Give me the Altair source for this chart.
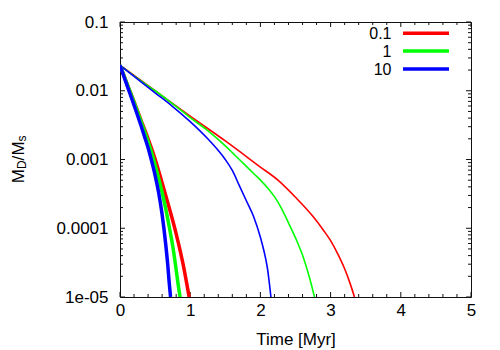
import altair as alt
import pandas as pd

# ---- data ----
series = ["0.1", "1", "10"]
colors = ["#ff0000", "#00ff00", "#0000ff"]

# thin curves (slow decay)
t_thin_01 = [0, 0.5, 1.0, 1.5, 2.0, 2.25, 2.5, 2.75, 2.9, 3.0, 3.1, 3.2, 3.27, 3.34]
v_thin_01 = [0.0235, 0.0100, 0.00427, 0.00186, 0.000776, 0.000501, 0.000282, 0.000148, 9.3e-5,
             6.6e-5, 4.27e-5, 2.57e-5, 1.66e-5, 1.0e-5]
t_thin_1 = [0, 0.25, 0.5, 0.75, 1.0, 1.25, 1.5, 1.6, 1.7, 1.8, 1.9, 2.0, 2.1, 2.2, 2.3, 2.4, 2.5,
            2.6, 2.7, 2.77]
v_thin_1 = [0.0235, 0.0151, 0.0100, 0.00646, 0.00407, 0.00263, 0.00158, 0.00126, 0.0010, 0.000794,
            0.000631, 0.000501, 0.000389, 0.000288, 0.000195, 0.00012, 7.24e-5, 4.07e-5, 1.9e-5,
            1.0e-5]
t_thin_10 = [0, 0.25, 0.5, 0.75, 1.0, 1.25, 1.4, 1.5, 1.6, 1.7, 1.8, 1.9, 2.0, 2.05, 2.1, 2.15]
v_thin_10 = [0.0235, 0.0148, 0.00933, 0.00589, 0.00355, 0.0020, 0.00135, 0.0010, 0.000692, 0.000417,
             0.000251, 0.000151, 7.4e-5, 4.7e-5, 2.63e-5, 1.0e-5]

# thick curves (fast decay)
t_thick_01 = [0, 0.1, 0.2, 0.3, 0.4, 0.5, 0.6, 0.7, 0.8, 0.86, 0.9, 0.95, 0.985]
v_thick_01 = [0.0235, 0.0126, 0.00692, 0.00372, 0.0020, 0.00102, 0.000457, 0.0002, 8.3e-5, 4.57e-5,
              2.95e-5, 1.58e-5, 1.0e-5]
t_thick_1 = [0, 0.1, 0.2, 0.3, 0.4, 0.45, 0.5, 0.55, 0.6, 0.65, 0.7, 0.75, 0.8, 0.83, 0.855]
v_thick_1 = [0.0235, 0.0126, 0.00676, 0.00355, 0.00182, 0.00126, 0.000832, 0.000537, 0.000331,
             0.000195, 0.000107, 5.6e-5, 2.5e-5, 1.48e-5, 1.0e-5]
t_thick_10 = [0, 0.1, 0.2, 0.3, 0.35, 0.4, 0.45, 0.5, 0.55, 0.6, 0.65, 0.68, 0.7, 0.72]
v_thick_10 = [0.0235, 0.0120, 0.00617, 0.00309, 0.00214, 0.00148, 0.000955, 0.000589, 0.000331,
              0.000158, 6.0e-5, 2.95e-5, 1.66e-5, 1.0e-5]

# axis ticks
x_major = [0, 1, 2, 3, 4, 5]
x_minor = [0.2, 0.4, 0.6, 0.8, 1.2, 1.4, 1.6, 1.8, 2.2, 2.4, 2.6, 2.8,
           3.2, 3.4, 3.6, 3.8, 4.2, 4.4, 4.6, 4.8]
y_major = [1e-5, 1e-4, 1e-3, 1e-2, 1e-1]
y_minor = [k * d for d in [1e-5, 1e-4, 1e-3, 1e-2] for k in range(2, 10)]

FONT = "Liberation Sans"
FRAME = "#111111"
W, H = 351, 275


def frame(ts, vs, name):
    return pd.DataFrame({"t": ts, "v": vs, "series": name})


thin = pd.concat([frame(t_thin_01, v_thin_01, "0.1"),
                  frame(t_thin_1, v_thin_1, "1"),
                  frame(t_thin_10, v_thin_10, "10")], ignore_index=True)
thick = pd.concat([frame(t_thick_01, v_thick_01, "0.1"),
                   frame(t_thick_1, v_thick_1, "1"),
                   frame(t_thick_10, v_thick_10, "10")], ignore_index=True)

xs = alt.Scale(domain=[0, 5], nice=False, zero=False)
ys = alt.Scale(type="log", domain=[1e-5, 0.1], nice=False)

x_axis = alt.Axis(values=x_major, format="d", ticks=False, domain=False, grid=False,
                  labelFontSize=17, labelFont=FONT, labelColor="black", labelPadding=5,
                  labelFlush=False, labelOverlap=False,
                  title="Time [Myr]", titleFont=FONT, titleFontSize=17,
                  titleFontWeight="normal", titleColor="black", titlePadding=13)
y_axis = alt.Axis(values=y_major, ticks=False, domain=False, grid=False,
                  labelExpr="datum.value < 3e-5 ? '1e-05' : format(datum.value, '~g')",
                  labelFontSize=17, labelFont=FONT, labelColor="black", labelPadding=12,
                  labelFlush=False, labelOverlap=False, title=None)

X = alt.X("t:Q", scale=xs, axis=x_axis)
Y = alt.Y("v:Q", scale=ys, axis=y_axis)
C = alt.Color("series:N", scale=alt.Scale(domain=series, range=colors), legend=None)

thin_layer = alt.Chart(thin).mark_line(strokeWidth=1.6, clip=True, interpolate="monotone").encode(
    x=X, y=Y, color=C, detail="series:N")
thick_layer = alt.Chart(thick).mark_line(strokeWidth=3.5, clip=True, interpolate="monotone").encode(
    x=X, y=Y, color=C, detail="series:N")


def xticks(vals, length, top):
    df = pd.DataFrame({"t": vals})
    if top:
        yy, yy2 = alt.value(0), alt.value(length)
    else:
        yy, yy2 = alt.value(H), alt.value(H - length)
    return alt.Chart(df).mark_rule(color=FRAME, strokeWidth=1).encode(x=X, y=yy, y2=yy2)


def yticks(vals, length, right):
    df = pd.DataFrame({"v": vals})
    if right:
        xx, xx2 = alt.value(W), alt.value(W - length)
    else:
        xx, xx2 = alt.value(0), alt.value(length)
    return alt.Chart(df).mark_rule(color=FRAME, strokeWidth=1).encode(y=Y, x=xx, x2=xx2)


tick_layers = [
    xticks(x_major, 5, False), xticks(x_major, 5, True),
    xticks(x_minor, 3, False), xticks(x_minor, 3, True),
    yticks(y_major, 5, False), yticks(y_major, 5, True),
    yticks(y_minor, 3, False), yticks(y_minor, 3, True),
]

# legend (gnuplot style: label on the left, line sample on the right)
legend_rows = [11.3, 29.0, 47.0]
legend_layers = []
for name, ry in zip(series, legend_rows):
    one_s = pd.DataFrame({"series": [name]})
    legend_layers.append(
        alt.Chart(one_s).mark_rule(strokeWidth=3.5).encode(
            x=alt.value(283), x2=alt.value(329), y=alt.value(ry), color=C))
    legend_layers.append(
        alt.Chart(one_s).mark_text(align="right", baseline="middle", fontSize=16, font=FONT,
                                   color="black").encode(
            x=alt.value(271.5), y=alt.value(ry + 0.5), text="series:N"))

# y-axis title  M_D/M_s  (rotated, with subscripts)
title_parts = [("M", 17, -96.5, 161.2), ("D", 12, -94.5, 147.0), ("/", 17, -96.5, 138.4),
               ("M", 17, -96.5, 133.6), ("s", 12, -94.5, 119.5)]
one = pd.DataFrame({"a": [0]})
title_layers = [
    alt.Chart(one).mark_text(text=txt, angle=270, align="left", baseline="alphabetic",
                             fontSize=fs, font=FONT, color="black").encode(x=alt.value(px), y=alt.value(py))
    for txt, fs, px, py in title_parts
]

chart = alt.layer(*tick_layers, thin_layer, thick_layer, *legend_layers, *title_layers).properties(
    width=W, height=H,
    padding={"left": 112, "top": 14, "right": 12, "bottom": 56},
    autosize=alt.AutoSizeParams(type="none"),
).configure_view(stroke=FRAME, strokeWidth=1)

chart.save("out.html", embed_options={"renderer": "svg", "actions": False})
